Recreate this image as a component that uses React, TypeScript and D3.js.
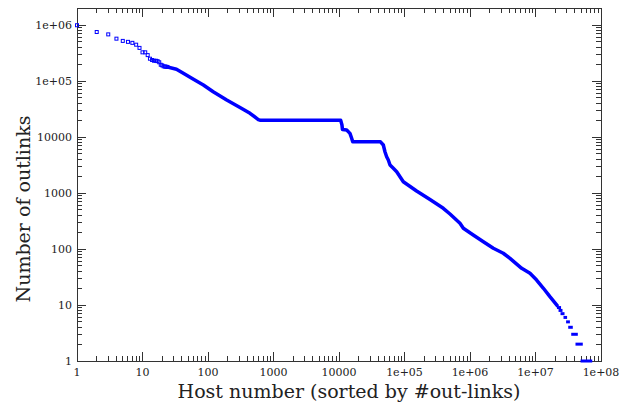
import React from 'react';
import * as d3 from 'd3';

const W = 629;
const H = 410;
const margin = { top: 8, right: 28, bottom: 49, left: 77 };

// first hosts, drawn as single open squares: rank, number of outlinks
const headRanks = [1, 2, 3, 4, 5, 6, 7, 8, 9, 10, 11, 12, 13, 14, 15, 16, 17, 18, 19, 20, 21, 22, 23, 24];
const headCounts = [990000, 750000, 680000, 570000, 520000, 500000, 480000, 445000, 390000, 325000, 325000, 290000,
  250000, 237000, 230000, 230000, 226000, 216000, 195000, 190000, 183000, 181000, 180000, 178000];

// dense part of the curve, where the markers run together
const bodyRanks = [24, 33, 42, 60, 85, 120, 193, 308, 438, 586, 620, 10600, 11100, 11300, 13100, 14700, 15600, 16200,
  43000, 47500, 50300, 53400, 56600, 60100, 67500, 76000, 95900, 153000, 245000, 391000, 495000, 703000, 791000,
  1120000, 1600000, 2270000, 3220000, 4080000, 6150000, 8240000, 10400000, 13200000, 16600000, 21100000];
const bodyCounts = [178000, 162000, 137000, 107000, 85000, 64400, 45800, 33600, 26500, 20500, 20000, 20000, 16400,
  13600, 13300, 11600, 9480, 8200, 8200, 7200, 5460, 4450, 3890, 3160, 2760, 2400, 1590, 1086, 765, 533, 422, 288,
  234, 178, 135, 103, 84, 68.2, 45.2, 36.8, 27.9, 19.9, 14.1, 10];

// tail: many hosts share the same small count
const tailCounts = [9, 8, 7, 6, 5, 4, 3, 2, 1];
const tailFrom = [22400000, 23700000, 25400000, 28200000, 30900000, 33300000, 37000000, 43000000, 51300000];
const tailTo = [23300000, 24500000, 26300000, 28800000, 31800000, 35200000, 42000000, 50000000, 69700000];

const xTicks = [1, 10, 100, 1000, 10000, 1e5, 1e6, 1e7, 1e8];
const xTickLabels = ['1', '10', '100', '1000', '10000', '1e+05', '1e+06', '1e+07', '1e+08'];
const yTicks = [1, 10, 100, 1000, 10000, 1e5, 1e6];
const yTickLabels = ['1', '10', '100', '1000', '10000', '1e+05', '1e+06'];

const xMax = 1e8;
const yMax = 2e6;

const blue = '#0000ff';
const axisColor = '#333';
const font = 'DejaVu Serif';

export default function App() {
  const x = d3.scaleLog().domain([1, xMax]).range([margin.left, W - margin.right]);
  // one decade = 56px, 1 sits on the bottom frame
  const bottom = H - margin.bottom;
  const y = d3.scaleLog().domain([1, 1e6]).range([bottom, bottom - 56 * 6]);
  const top = y(yMax);
  const left = x(1);
  const right = x(xMax);

  const minorX: number[] = [];
  for (let d = 0; d < 8; d++) for (let k = 2; k < 10; k++) minorX.push(k * Math.pow(10, d));
  const minorY: number[] = [];
  for (let d = 0; d < 7; d++) for (let k = 2; k < 10; k++) if (k * Math.pow(10, d) < yMax) minorY.push(k * Math.pow(10, d));

  const body = bodyRanks.map((r, i) => [r, bodyCounts[i]] as [number, number]);
  const line = d3.line<[number, number]>().x(d => x(d[0])).y(d => y(d[1]));

  const major = 9;
  const minor = 5;

  return (
    <svg width={W} height={H} style={{ position: 'absolute', left: 0, top: 0, background: '#fff' }}>
      <rect x={0} y={0} width={W} height={H} fill="#fff" />
      {/* ticks on all four sides */}
      <g stroke={axisColor} strokeWidth={1} shapeRendering="crispEdges">
        {xTicks.map(t => (
          <g key={'xt' + t}>
            <line x1={x(t)} x2={x(t)} y1={bottom} y2={bottom - major} />
            <line x1={x(t)} x2={x(t)} y1={top} y2={top + major} />
          </g>
        ))}
        {minorX.map(t => (
          <g key={'xm' + t}>
            <line x1={x(t)} x2={x(t)} y1={bottom} y2={bottom - minor} />
            <line x1={x(t)} x2={x(t)} y1={top} y2={top + minor} />
          </g>
        ))}
        {yTicks.map(t => (
          <g key={'yt' + t}>
            <line x1={left} x2={left + major} y1={y(t)} y2={y(t)} />
            <line x1={right} x2={right - major} y1={y(t)} y2={y(t)} />
          </g>
        ))}
        {minorY.map(t => (
          <g key={'ym' + t}>
            <line x1={left} x2={left + minor} y1={y(t)} y2={y(t)} />
            <line x1={right} x2={right - minor} y1={y(t)} y2={y(t)} />
          </g>
        ))}
        <rect x={left} y={top} width={right - left} height={bottom - top} fill="none" />
      </g>

      {/* tick labels */}
      <g fontFamily={font} fontSize={11} fill="#222">
        {xTicks.map((t, i) => (
          <text key={'xl' + t} x={x(t)} y={bottom + 15} textAnchor="middle">{xTickLabels[i]}</text>
        ))}
        {yTicks.map((t, i) => (
          <text key={'yl' + t} x={left - 5} y={y(t) + 4} textAnchor="end">{yTickLabels[i]}</text>
        ))}
      </g>

      {/* data */}
      <path d={line(body) || ''} fill="none" stroke={blue} strokeWidth={3.5} strokeLinejoin="round" strokeLinecap="square" />
      {tailCounts.map((c, i) => (
        <line key={'tail' + c} x1={x(tailFrom[i])} x2={x(tailTo[i])} y1={y(c)} y2={y(c)}
          stroke={blue} strokeWidth={3} strokeLinecap="square" />
      ))}
      {headRanks.map((r, i) => (
        <rect key={'h' + r} x={x(r) - 1.5} y={y(headCounts[i]) - 1.5} width={3} height={3}
          fill="none" stroke={blue} strokeWidth={1} />
      ))}

      {/* axis titles */}
      <text x={349} y={398} textAnchor="middle" fontFamily={font} fontSize={19} fill="#222">
        Host number (sorted by #out-links)
      </text>
      <text transform="translate(30,209) rotate(-90)" textAnchor="middle" fontFamily={font} fontSize={19} fill="#222">
        Number of outlinks
      </text>
    </svg>
  );
}
